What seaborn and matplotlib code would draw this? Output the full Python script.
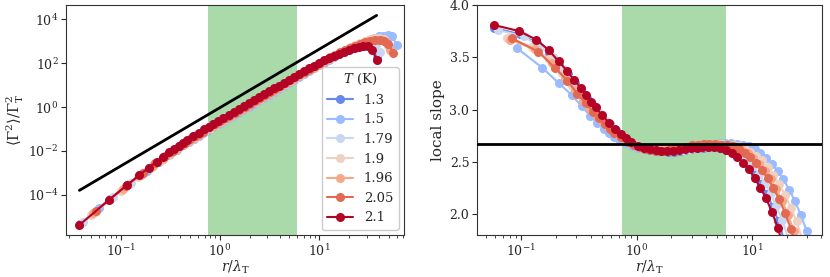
import numpy as np
import matplotlib
matplotlib.use("Agg")
import matplotlib.pyplot as plt
import seaborn as sns

# temperatures (legend labels) and grid spacing in units of lambda_T
TEMPS = ["1.3", "1.5", "1.79", "1.9", "1.96", "2.05", "2.1"]
DX = [0.039, 0.061, 0.042, 0.050, 0.053, 0.056, 0.0385]

# separations (in grid steps) for the structure function
N_SEP = [1, 2, 3, 4, 5, 6, 7, 8, 9, 10, 11, 12,
         14, 16, 18, 20, 22, 25, 28, 32, 36, 40,
         45, 51, 57, 64, 72, 81, 91, 102, 115, 129,
         145, 163, 183, 205, 230, 258, 290, 325, 365, 410,
         460, 516, 579, 650, 720, 800, 885, 980]
# mid separations where the local slope is evaluated
M_SEP = [1.5, 2.5, 3.5, 4.5, 5.5, 6.5, 7.5, 8.5, 9.5, 10.5, 11.5,
         13, 15, 17, 19, 21, 23.5, 26.5, 30, 34, 38,
         42.5, 48, 54, 60.5, 68, 76.5, 86, 96.5, 108.5, 122,
         137, 154, 173, 194, 217.5, 244, 274, 307.5, 345, 387.5,
         435, 488, 547.5, 614.5]

# log10 of <Gamma^2>/Gamma_T^2 at N_SEP
LOG_G2_13 = [-5.35, -4.21, -3.56, -3.10, -2.76, -2.49, -2.26, -2.08, -1.91, -1.77, -1.64, -1.53,
             -1.34, -1.17, -1.03, -0.90, -0.79, -0.64, -0.51, -0.36, -0.22, -0.11,
             0.03, 0.17, 0.29, 0.43, 0.56, 0.69, 0.83, 0.96, 1.09, 1.23,
             1.36, 1.49, 1.62, 1.75, 1.88, 2.00, 2.12, 2.23, 2.34, 2.45,
             2.54, 2.63, 2.71, 2.77, 2.80, 2.78, 2.69, 2.25]
LOG_G2_15 = [-4.58, -3.50, -2.90, -2.50, -2.19, -1.95, -1.75, -1.59, -1.44, -1.32, -1.20, -1.10,
             -0.92, -0.77, -0.63, -0.51, -0.40, -0.26, -0.13, 0.02, 0.16, 0.28,
             0.41, 0.56, 0.68, 0.82, 0.95, 1.09, 1.23, 1.36, 1.50, 1.63,
             1.77, 1.90, 2.03, 2.16, 2.29, 2.41, 2.53, 2.65, 2.76, 2.87,
             2.97, 3.06, 3.14, 3.22, 3.26, 3.27, 3.22, 2.85]
LOG_G2_179 = [-5.23, -4.10, -3.45, -3.00, -2.66, -2.39, -2.17, -1.98, -1.82, -1.68, -1.56, -1.45,
              -1.25, -1.09, -0.95, -0.82, -0.71, -0.56, -0.43, -0.28, -0.15, -0.03,
              0.11, 0.25, 0.37, 0.51, 0.64, 0.78, 0.91, 1.04, 1.18, 1.31,
              1.44, 1.58, 1.71, 1.83, 1.96, 2.08, 2.20, 2.32, 2.43, 2.53,
              2.63, 2.72, 2.80, 2.86, 2.90, 2.90, 2.83, 2.50]
LOG_G2_19 = [-4.94, -3.83, -3.20, -2.76, -2.44, -2.18, -1.97, -1.79, -1.64, -1.51, -1.39, -1.28,
             -1.09, -0.94, -0.80, -0.68, -0.57, -0.42, -0.29, -0.14, 0.00, 0.12,
             0.25, 0.39, 0.52, 0.66, 0.79, 0.93, 1.06, 1.20, 1.33, 1.47,
             1.60, 1.74, 1.87, 2.00, 2.13, 2.25, 2.38, 2.49, 2.61, 2.72,
             2.82, 2.92, 3.01, 3.09, 3.13, 3.15, 3.10, 2.80]
LOG_G2_196 = [-4.83, -3.73, -3.10, -2.67, -2.35, -2.09, -1.89, -1.71, -1.56, -1.43, -1.31, -1.21,
              -1.02, -0.86, -0.73, -0.61, -0.50, -0.35, -0.22, -0.07, 0.06, 0.18,
              0.32, 0.46, 0.59, 0.72, 0.86, 1.00, 1.13, 1.27, 1.40, 1.54,
              1.67, 1.80, 1.93, 2.06, 2.18, 2.30, 2.42, 2.53, 2.64, 2.74,
              2.83, 2.92, 2.99, 3.04, 3.07, 3.06, 2.98, 2.62]
LOG_G2_205 = [-4.72, -3.61, -2.99, -2.56, -2.24, -2.00, -1.79, -1.62, -1.47, -1.34, -1.22, -1.12,
              -0.93, -0.78, -0.64, -0.52, -0.41, -0.27, -0.14, 0.01, 0.15, 0.27,
              0.40, 0.55, 0.68, 0.81, 0.95, 1.08, 1.22, 1.35, 1.49, 1.62,
              1.75, 1.89, 2.01, 2.14, 2.26, 2.37, 2.49, 2.59, 2.70, 2.79,
              2.87, 2.95, 3.00, 3.04, 3.04, 3.00, 2.89, 2.47]
LOG_G2_21 = [-5.37, -4.22, -3.56, -3.10, -2.76, -2.49, -2.26, -2.07, -1.91, -1.76, -1.64, -1.52,
             -1.33, -1.16, -1.02, -0.89, -0.78, -0.63, -0.50, -0.35, -0.21, -0.09,
             0.04, 0.18, 0.31, 0.44, 0.58, 0.71, 0.85, 0.98, 1.11, 1.25,
             1.38, 1.51, 1.64, 1.77, 1.89, 2.01, 2.13, 2.24, 2.34, 2.44,
             2.53, 2.61, 2.68, 2.74, 2.78, 2.76, 2.60, 2.14]

# local slope at M_SEP
SLOPE_13 = [3.78, 3.72, 3.64, 3.54, 3.43, 3.34, 3.25, 3.18, 3.11, 3.05, 2.995,
            2.93, 2.86, 2.80, 2.752, 2.713, 2.675, 2.647, 2.628, 2.614, 2.606,
            2.601, 2.598, 2.598, 2.603, 2.61, 2.62, 2.628, 2.634, 2.638, 2.638,
            2.632, 2.617, 2.593, 2.56, 2.515, 2.455, 2.38, 2.29, 2.19, 2.07,
            1.93, 1.75, 1.52]
SLOPE_15 = [3.59, 3.40, 3.25, 3.14, 3.03, 2.94, 2.87, 2.815, 2.775, 2.74, 2.714,
            2.681, 2.648, 2.629, 2.621, 2.616, 2.613, 2.612, 2.613, 2.618, 2.626,
            2.635, 2.645, 2.655, 2.662, 2.668, 2.673, 2.676, 2.678, 2.677, 2.672,
            2.664, 2.647, 2.618, 2.581, 2.537, 2.482, 2.414, 2.331, 2.234, 2.123,
            1.99, 1.84, 1.65, 1.44]
SLOPE_179 = [3.76, 3.70, 3.60, 3.50, 3.39, 3.29, 3.21, 3.125, 3.06, 3.01, 2.955,
             2.89, 2.82, 2.77, 2.725, 2.692, 2.662, 2.641, 2.625, 2.615, 2.61,
             2.607, 2.607, 2.612, 2.617, 2.626, 2.635, 2.642, 2.646, 2.648, 2.646,
             2.64, 2.625, 2.60, 2.564, 2.52, 2.46, 2.388, 2.298, 2.198, 2.077,
             1.947, 1.776, 1.576]
SLOPE_19 = [3.685, 3.60, 3.485, 3.35, 3.225, 3.14, 3.055, 2.99, 2.93, 2.88, 2.837,
            2.79, 2.735, 2.698, 2.67, 2.65, 2.633, 2.62, 2.614, 2.612, 2.616,
            2.624, 2.634, 2.646, 2.657, 2.664, 2.668, 2.67, 2.67, 2.668, 2.665,
            2.66, 2.648, 2.627, 2.598, 2.56, 2.513, 2.452, 2.378, 2.286, 2.184,
            2.06, 1.93, 1.75, 1.55]
SLOPE_196 = [3.67, 3.575, 3.445, 3.305, 3.185, 3.085, 3.005, 2.94, 2.888, 2.845, 2.803,
             2.757, 2.705, 2.677, 2.65, 2.636, 2.622, 2.613, 2.61, 2.61, 2.618,
             2.628, 2.64, 2.652, 2.66, 2.667, 2.67, 2.668, 2.666, 2.665, 2.658,
             2.642, 2.615, 2.58, 2.537, 2.483, 2.417, 2.333, 2.236, 2.127, 1.99,
             1.84, 1.65, 1.42]
SLOPE_205 = [3.68, 3.555, 3.40, 3.276, 3.15, 3.06, 2.98, 2.915, 2.86, 2.815, 2.78,
             2.735, 2.69, 2.662, 2.642, 2.627, 2.614, 2.608, 2.607, 2.612, 2.622,
             2.632, 2.645, 2.657, 2.665, 2.670, 2.672, 2.670, 2.665, 2.66, 2.65,
             2.623, 2.587, 2.545, 2.489, 2.425, 2.345, 2.248, 2.145, 2.013, 1.862,
             1.68, 1.47]
SLOPE_21 = [3.81, 3.75, 3.67, 3.57, 3.46, 3.37, 3.28, 3.21, 3.14, 3.075, 3.02,
            2.95, 2.875, 2.815, 2.765, 2.725, 2.685, 2.655, 2.636, 2.621, 2.613,
            2.608, 2.605, 2.606, 2.612, 2.619, 2.629, 2.637, 2.642, 2.645, 2.643,
            2.634, 2.613, 2.583, 2.544, 2.493, 2.428, 2.345, 2.252, 2.150, 2.018,
            1.87, 1.68, 1.45]

LOG_G2 = [LOG_G2_13, LOG_G2_15, LOG_G2_179, LOG_G2_19, LOG_G2_196, LOG_G2_205, LOG_G2_21]
SLOPES = [SLOPE_13, SLOPE_15, SLOPE_179, SLOPE_19, SLOPE_196, SLOPE_205, SLOPE_21]

# r^(8/3) guide line and inertial range
GUIDE_X = [0.0385, 37.7]
GUIDE_Y = [1.6e-4, 1.5e4]
GUIDE_SLOPE = 8 / 3
SPAN = (0.75, 6.0)

sns.set_style("ticks")
plt.rcParams["font.family"] = "serif"
plt.rcParams["font.serif"] = ["DejaVu Serif"]
plt.rcParams["mathtext.fontset"] = "dejavuserif"
plt.rcParams["axes.edgecolor"] = "#333333"

cmap = sns.color_palette("coolwarm", as_cmap=True)
colors = [cmap(v) for v in np.linspace(1 / 7, 1, 7)]

fig = plt.figure(figsize=(8.3, 2.77), dpi=100)
ax1 = fig.add_axes([0.0795, 0.1516, 0.4072, 0.8303])
ax2 = fig.add_axes([0.5747, 0.1516, 0.4157, 0.8303])

for ax in (ax1, ax2):
    ax.axvspan(*SPAN, color="tab:green", alpha=0.4, lw=0, zorder=0)

line_kw = dict(marker="o", markersize=6.5, markeredgewidth=0, linewidth=1.5)
handles = []
for temp, dx, logy, slope, c in zip(TEMPS, DX, LOG_G2, SLOPES, colors):
    x1 = np.array(N_SEP) * dx
    y1 = 10 ** np.array(logy)
    sns.lineplot(x=x1, y=y1, ax=ax1, color=c, estimator=None, sort=False, **line_kw)
    x2 = np.array(M_SEP[:len(slope)]) * dx
    sns.lineplot(x=x2, y=slope, ax=ax2, color=c, estimator=None, sort=False, **line_kw)
    handles.append(plt.Line2D([], [], color=c, label=temp, **line_kw))

ax1.plot(GUIDE_X, GUIDE_Y, color="black", lw=2, zorder=3)
ax2.axhline(GUIDE_SLOPE, color="black", lw=2, zorder=5)

ax1.set_xscale("log")
ax1.set_yscale("log")
ax1.set_xlim(0.0282, 71)
ax1.set_ylim(10 ** -5.83, 10 ** 4.65)
ax2.set_xscale("log")
ax2.set_xlim(0.0415, 40.5)
ax2.set_ylim(1.8, 4.0)
ax2.set_yticks([2.0, 2.5, 3.0, 3.5, 4.0])

ax1.set_xlabel(r"$r/\lambda_\mathrm{T}$", fontsize=10, labelpad=0)
ax1.set_ylabel(r"$\langle\Gamma^2\rangle/\Gamma_\mathrm{T}^2$", fontsize=10.5, labelpad=1)
ax2.set_xlabel(r"$r/\lambda_\mathrm{T}$", fontsize=10, labelpad=0)
ax2.set_ylabel("local slope", fontsize=11, labelpad=3)
for ax in (ax1, ax2):
    ax.tick_params(labelsize=9, pad=2)

ax1.legend(handles=handles, title=r"$T$ (K)", loc="lower right", fontsize=9.5,
           title_fontsize=9.5, frameon=True, framealpha=1.0, edgecolor="#cccccc",
           borderaxespad=0.4)

fig.savefig("out.png", dpi=100)
